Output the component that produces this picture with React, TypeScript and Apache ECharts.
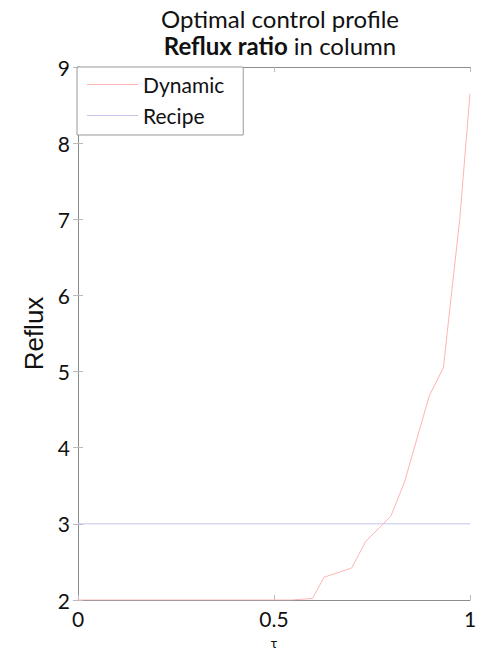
import React, { useEffect, useRef } from "react";
import * as echarts from "echarts";

const dynamicX = [0, 0.545, 0.598, 0.628, 0.698, 0.734, 0.798, 0.833, 0.896, 0.932, 0.953, 0.974, 0.99, 1.0];
const dynamicY = [2, 2, 2.02, 2.3, 2.42, 2.77, 3.1, 3.55, 4.68, 5.05, 6.03, 7.01, 8.02, 8.65];
const recipeX = [0, 1];
const recipeY = [3, 3];
const xTicks = [0, 0.5, 1];
const yTicks = [2, 3, 4, 5, 6, 7, 8, 9];

export default function App() {
  const ref = useRef<HTMLDivElement>(null);
  useEffect(() => {
    if (!ref.current) return;
    const chart = echarts.init(ref.current, null, { renderer: "svg" });
    const font = "Lato, 'Open Sans', sans-serif";
    const axisColor = "#8c8c8c";
    chart.setOption({
      animation: false,
      backgroundColor: "#fff",
      title: {
        text: "Optimal control profile\n{b|Reflux ratio} in column",
        left: 275,
        top: 0,
        textAlign: "center",
        textStyle: {
          fontFamily: font,
          fontSize: 24,
          fontWeight: "normal",
          color: "#111",
          lineHeight: 27,
          rich: {
            b: { fontFamily: font, fontSize: 24, fontWeight: "bold", color: "#111", lineHeight: 27 },
          },
        },
      },
      legend: {
        left: 77,
        top: 67,
        orient: "vertical",
        backgroundColor: "#fff",
        borderColor: "#999",
        borderWidth: 1,
        borderRadius: 0,
        padding: [5, 19, 7, 10],
        icon: "rect",
        itemWidth: 51,
        itemHeight: 1,
        itemGap: 6,
        textStyle: { fontFamily: font, fontSize: 21, color: "#111", lineHeight: 25 },
        data: ["Dynamic", "Recipe"],
      },
      grid: { left: 78, right: 10, top: 67, bottom: 52, outerBoundsMode: "none", containLabel: false },
      xAxis: [
        {
          type: "value",
          min: 0,
          max: 1,
          interval: 0.5,
          name: "τ",
          nameLocation: "middle",
          nameGap: 35,
          nameTextStyle: { fontFamily: font, fontSize: 14, color: "#111", verticalAlign: "top" },
          axisLine: { lineStyle: { color: axisColor } },
          axisTick: { inside: true, length: 5, lineStyle: { color: "#bbb" } },
          axisLabel: {
            fontFamily: font,
            fontSize: 21,
            color: "#111",
            margin: 8,
            formatter: (v: number) => (xTicks.includes(v) ? String(v) : ""),
          },
          splitLine: { show: false },
        },
        {
          type: "value",
          position: "top",
          min: 0,
          max: 1,
          interval: 0.5,
          axisLine: { lineStyle: { color: axisColor } },
          axisTick: { inside: true, length: 5, lineStyle: { color: "#bbb" } },
          axisLabel: { show: false },
          splitLine: { show: false },
        },
      ],
      yAxis: [
        {
          type: "value",
          min: 2,
          max: 9,
          interval: 1,
          name: "Reflux",
          nameLocation: "middle",
          nameGap: 27,
          nameTextStyle: { fontFamily: "'Liberation Sans', Arial, sans-serif", fontSize: 26, color: "#111" },
          axisLine: { show: true, lineStyle: { color: axisColor } },
          axisTick: { show: true, inside: true, length: 5, lineStyle: { color: "#bbb" } },
          axisLabel: {
            fontFamily: font,
            fontSize: 21,
            color: "#111",
            margin: 8,
            formatter: (v: number) => (yTicks.includes(v) ? String(v) : ""),
          },
          splitLine: { show: false },
        },
        {
          type: "value",
          position: "right",
          min: 2,
          max: 9,
          interval: 1,
          axisLine: { show: true, lineStyle: { color: axisColor } },
          axisTick: { show: true, inside: true, length: 5, lineStyle: { color: "#bbb" } },
          axisLabel: { show: false },
          splitLine: { show: false },
        },
      ],
      series: [
        {
          name: "Dynamic",
          type: "line",
          data: dynamicX.map((x, i) => [x, dynamicY[i]]),
          showSymbol: false,
          symbol: "none",
          lineStyle: { color: "#ffb4b4", width: 1 },
          itemStyle: { color: "#ffb4b4" },
          z: 3,
        },
        {
          name: "Recipe",
          type: "line",
          data: recipeX.map((x, i) => [x, recipeY[i]]),
          showSymbol: false,
          symbol: "none",
          lineStyle: { color: "#c4c4ee", width: 1 },
          itemStyle: { color: "#c4c4ee" },
          z: 2,
        },
      ],
    });
    return () => chart.dispose();
  }, []);
  return <div ref={ref} style={{ width: 480, height: 652, position: "absolute", left: 0, top: 0 }} />;
}
